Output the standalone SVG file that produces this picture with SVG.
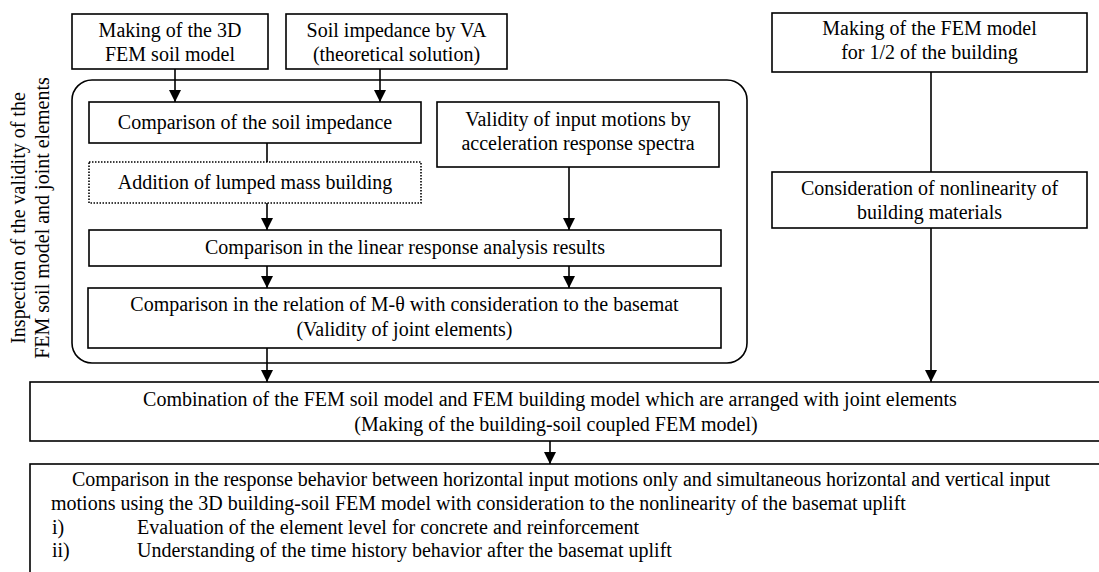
<svg xmlns="http://www.w3.org/2000/svg" width="1099" height="572" viewBox="0 0 1099 572">
<defs>
<style>
text{font-family:"Liberation Serif","Times New Roman",serif;font-size:20px;fill:#000}
.c{text-anchor:middle}
.box{fill:#fff;stroke:#000;stroke-width:1.6}
.dot{fill:#fff;stroke:#000;stroke-width:1.6;stroke-dasharray:1.5 1.5}
.ln{fill:none;stroke:#000;stroke-width:1.6}
</style>
<marker id="ah" viewBox="0 0 12 12" markerWidth="12" markerHeight="12" refX="12" refY="6" orient="auto" markerUnits="userSpaceOnUse">
<path d="M0,0 L12,6 L0,12 Z" fill="#000"/>
</marker>
</defs>
<rect width="1099" height="572" fill="#fff"/>
<g id="container">
<rect x="72" y="80" width="675" height="283" rx="20" ry="20" class="ln"/>
</g>
<g id="vertical-label">
<text class="c" transform="translate(25,218) rotate(-90)">Inspection of the validity of the</text>
<text class="c" transform="translate(49,218) rotate(-90)">FEM soil model and joint elements</text>
</g>
<g id="connectors">
<line x1="175" y1="69" x2="175" y2="102" class="ln" marker-end="url(#ah)"/>
<line x1="380" y1="69" x2="380" y2="102" class="ln" marker-end="url(#ah)"/>
<line x1="267" y1="143" x2="267" y2="162" class="ln"/>
<line x1="267" y1="203" x2="267" y2="230" class="ln" marker-end="url(#ah)"/>
<line x1="569" y1="167" x2="569" y2="230" class="ln" marker-end="url(#ah)"/>
<line x1="267" y1="266" x2="267" y2="288" class="ln" marker-end="url(#ah)"/>
<line x1="569" y1="266" x2="569" y2="288" class="ln" marker-end="url(#ah)"/>
<line x1="267" y1="348" x2="267" y2="382" class="ln" marker-end="url(#ah)"/>
<line x1="931" y1="72" x2="931" y2="172" class="ln"/>
<line x1="931" y1="228" x2="931" y2="382" class="ln" marker-end="url(#ah)"/>
<line x1="550" y1="441" x2="550" y2="464" class="ln" marker-end="url(#ah)"/>
</g>
<g id="n-3dsoil">
<rect x="72" y="14" width="196" height="55" class="box"/>
<text x="170" y="37" class="c">Making of the 3D</text>
<text x="170" y="61" class="c">FEM soil model</text>
</g>
<g id="n-va">
<rect x="286" y="14" width="221" height="55" class="box"/>
<text x="396.5" y="37" class="c">Soil impedance by VA</text>
<text x="396.5" y="61" class="c">(theoretical solution)</text>
</g>
<g id="n-fembuilding">
<rect x="772" y="13" width="315" height="59" class="box"/>
<text x="929.5" y="35" class="c">Making of the FEM model</text>
<text x="929.5" y="59" class="c">for 1/2 of the building</text>
</g>
<g id="n-impedance">
<rect x="89" y="102" width="332" height="41" class="box"/>
<text x="255" y="129" class="c">Comparison of the soil impedance</text>
</g>
<g id="n-lumped">
<rect x="89" y="162" width="332" height="41" class="dot"/>
<text x="255" y="189" class="c">Addition of lumped mass building</text>
</g>
<g id="n-validity">
<rect x="437" y="102" width="282" height="65" class="box"/>
<text x="578" y="126" class="c">Validity of input motions by</text>
<text x="578" y="150" class="c">acceleration response spectra</text>
</g>
<g id="n-linear">
<rect x="89" y="230" width="632" height="36" class="box"/>
<text x="405" y="254" class="c">Comparison in the linear response analysis results</text>
</g>
<g id="n-mtheta">
<rect x="88" y="288" width="633" height="60" class="box"/>
<text x="404.5" y="311" class="c">Comparison in the relation of M-θ with consideration to the basemat</text>
<text x="404.5" y="336" class="c">(Validity of joint elements)</text>
</g>
<g id="n-nonlinear">
<rect x="772" y="172" width="315" height="56" class="box"/>
<text x="929.5" y="195" class="c">Consideration of nonlinearity of</text>
<text x="929.5" y="219" class="c">building materials</text>
</g>
<g id="n-combination">
<rect x="30" y="382" width="1085" height="59" class="box"/>
<text x="550" y="406" class="c">Combination of the FEM soil model and FEM building model which are arranged with joint elements</text>
<text x="556" y="431" class="c">(Making of the building-soil coupled FEM model)</text>
</g>
<g id="n-response">
<rect x="30" y="464" width="1085" height="120" class="box"/>
<text x="72" y="486" textLength="978" lengthAdjust="spacing">Comparison in the response behavior between horizontal input motions only and simultaneous horizontal and vertical input</text>
<text x="51" y="510">motions using the 3D building-soil FEM model with consideration to the nonlinearity of the basemat uplift</text>
<text x="52" y="534">i)</text>
<text x="137" y="534">Evaluation of the element level for concrete and reinforcement</text>
<text x="52" y="557">ii)</text>
<text x="137" y="557">Understanding of the time history behavior after the basemat uplift</text>
</g>
</svg>
